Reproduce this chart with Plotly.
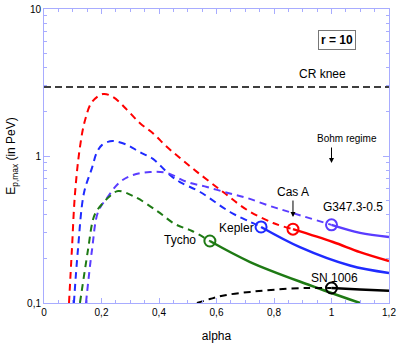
import plotly.graph_objects as go

# --- data (alpha, E_p,max in PeV) ---
cas_a_dash_alpha = [0.087, 0.097, 0.108, 0.125, 0.143, 0.167, 0.205, 0.240, 0.289, 0.334,
                    0.379, 0.428, 0.473, 0.532, 0.623, 0.706, 0.797, 0.866]
cas_a_dash_e = [0.1, 0.23, 0.56, 1.15, 1.76, 2.33, 2.64, 2.52, 2.06, 1.67,
                1.43, 1.15, 0.97, 0.78, 0.569, 0.43, 0.35, 0.318]
cas_a_solid_alpha = [0.866, 1.005, 1.099, 1.2]
cas_a_solid_e = [0.318, 0.26, 0.222, 0.193]

kepler_dash_alpha = [0.104, 0.118, 0.139, 0.167, 0.184, 0.202, 0.230, 0.247, 0.289, 0.334,
                     0.379, 0.438, 0.473, 0.543, 0.647, 0.717, 0.755]
kepler_dash_e = [0.1, 0.23, 0.56, 0.83, 1.06, 1.19, 1.26, 1.26, 1.19, 1.06,
                 0.955, 0.743, 0.665, 0.569, 0.416, 0.356, 0.329]
kepler_solid_alpha = [0.755, 0.89, 1.064, 1.2]
kepler_solid_e = [0.329, 0.24, 0.18, 0.16]

g347_dash_alpha = [0.146, 0.167, 0.188, 0.219, 0.264, 0.310, 0.369, 0.428, 0.497, 0.567,
                   0.640, 0.706, 0.786, 0.866, 1.0]
g347_dash_e = [0.1, 0.23, 0.416, 0.518, 0.665, 0.743, 0.778, 0.766, 0.666, 0.615,
               0.56, 0.518, 0.457, 0.409, 0.34]
g347_solid_alpha = [1.0, 1.099, 1.2]
g347_solid_e = [0.34, 0.30, 0.281]

tycho_dash_alpha = [0.125, 0.153, 0.170, 0.181, 0.205, 0.230, 0.258, 0.317, 0.393, 0.456,
                    0.515, 0.577]
tycho_dash_e = [0.1, 0.23, 0.367, 0.416, 0.479, 0.535, 0.578, 0.526, 0.423, 0.344,
                0.309, 0.264]
tycho_solid_alpha = [0.577, 0.717, 0.925, 1.099]
tycho_solid_e = [0.264, 0.19, 0.132, 0.1]

sn1006_dash_alpha = [0.532, 0.577, 0.630, 0.717, 0.810, 0.915, 1.0]
sn1006_dash_e = [0.1, 0.1064, 0.113, 0.119, 0.1236, 0.1265, 0.1265]
sn1006_solid_alpha = [1.0, 1.099, 1.2]
sn1006_solid_e = [0.1265, 0.1236, 0.121]

cr_knee_e = 2.95

remnants = [
    # name, colour, dashed alpha, dashed E, solid alpha, solid E
    ("Cas A", "#ff0000", cas_a_dash_alpha, cas_a_dash_e, cas_a_solid_alpha, cas_a_solid_e),
    ("Kepler", "#1f2bff", kepler_dash_alpha, kepler_dash_e, kepler_solid_alpha, kepler_solid_e),
    ("G347.3-0.5", "#5a3cff", g347_dash_alpha, g347_dash_e, g347_solid_alpha, g347_solid_e),
    ("Tycho", "#1e7a14", tycho_dash_alpha, tycho_dash_e, tycho_solid_alpha, tycho_solid_e),
    ("SN 1006", "#000000", sn1006_dash_alpha, sn1006_dash_e, sn1006_solid_alpha, sn1006_solid_e),
]

fig = go.Figure()

# CR knee
fig.add_trace(go.Scatter(x=[0, 1.2], y=[cr_knee_e, cr_knee_e], mode="lines",
                         line=dict(color="black", width=1.5, dash="7px,4px"),
                         showlegend=False, hoverinfo="skip"))

for name, color, da, de, sa, se in remnants:
    fig.add_trace(go.Scatter(x=da, y=de, mode="lines",
                             line=dict(color=color, width=2, dash="7px,5px", shape="spline"),
                             showlegend=False, name=name))
    fig.add_trace(go.Scatter(x=sa, y=se, mode="lines",
                             line=dict(color=color, width=2.5, shape="spline"),
                             showlegend=False, name=name))
    fig.add_trace(go.Scatter(x=[sa[0]], y=[se[0]], mode="markers",
                             marker=dict(symbol="circle-open", size=11, color=color,
                                         line=dict(width=2, color=color)),
                             showlegend=False, name=name))

lbl = dict(family="Liberation Sans, Arial, sans-serif", size=12, color="black")
annotations = [
    dict(x=0.967, y=0.558, text="CR knee", showarrow=False, font=lbl),
    dict(x=1.054, y=0.122, text="Bohm regime", showarrow=False, font=dict(lbl, size=10)),
    dict(x=1.0, y=-0.048, ax=1.0, ay=0.068, axref="x", ayref="y", text="",
         showarrow=True, arrowhead=2, arrowsize=1, arrowwidth=1, arrowcolor="black"),
    # Cas A label carries its own arrow down to the curve
    dict(x=0.866, y=-0.415, ax=0.866, ay=-0.245, axref="x", ayref="y", text="Cas A",
         showarrow=True, arrowhead=2, arrowsize=1, arrowwidth=1, arrowcolor="black",
         standoff=0, font=lbl),
    dict(x=1.075, y=-0.347, text="G347.3-0.5", showarrow=False, font=lbl),
    dict(x=0.668, y=-0.49, text="Kepler", showarrow=False, font=lbl),
    dict(x=0.473, y=-0.571, text="Tycho", showarrow=False, font=lbl),
    dict(x=1.009, y=-0.830, text="SN 1006", showarrow=False, font=lbl),
    dict(x=0.904, y=0.929, xref="paper", yref="paper", text="<b>r = 10</b>",
         showarrow=False, font=lbl, bgcolor="white", bordercolor="#777777",
         borderwidth=1, borderpad=2),
]

axis_color = "#a8acff"
fig.update_layout(
    width=407, height=345,
    margin=dict(l=44, r=18, t=9, b=42),
    paper_bgcolor="white", plot_bgcolor="white",
    separators=", ",
    font=dict(family="Liberation Sans, Arial, sans-serif", size=10, color="black"),
    annotations=annotations,
    showlegend=False,
)
fig.update_xaxes(
    range=[0, 1.2], dtick=0.2, tick0=0, automargin=False,
    showgrid=False, zeroline=False,
    showline=True, linecolor=axis_color, linewidth=1, mirror="allticks",
    ticks="inside", ticklen=5, tickcolor=axis_color,
    minor=dict(dtick=0.05, ticks="inside", ticklen=3, tickcolor=axis_color),
    title=dict(text="alpha", font=dict(size=12), standoff=14),
)
fig.update_yaxes(
    type="log", range=[-1, 1], dtick=1, automargin=False,
    showgrid=False, zeroline=False,
    showline=True, linecolor=axis_color, linewidth=1, mirror="allticks",
    ticks="inside", ticklen=6, tickcolor=axis_color,
    minor=dict(dtick="D1", ticks="inside", ticklen=3, tickcolor=axis_color),
    title=dict(text="E<sub>p,max</sub> (in PeV)", font=dict(size=12), standoff=8),
)

# the page's default body margin would push the 407x345 figure off the window
fig.write_html("out.html", config={"displayModeBar": False},
               post_script="document.body.style.margin='0';")
